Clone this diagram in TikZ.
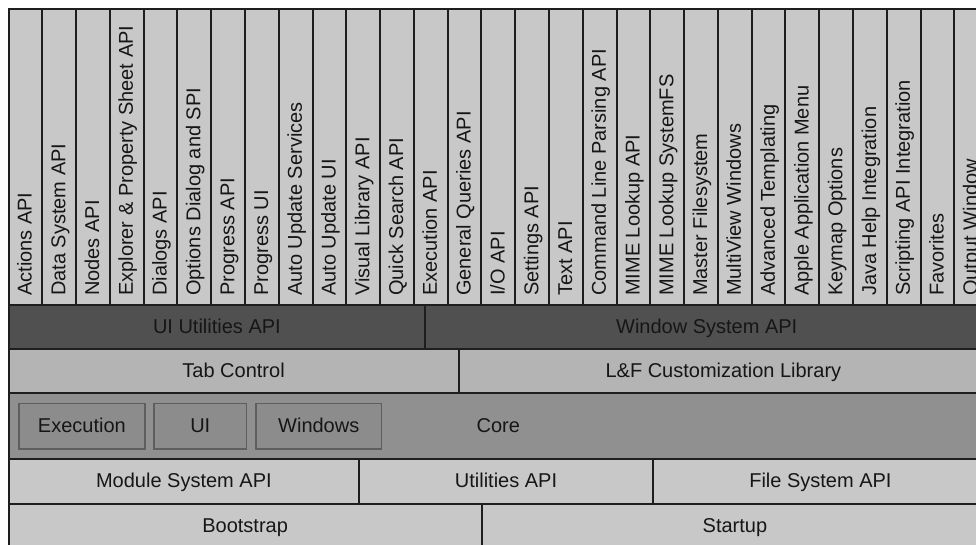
\documentclass[tikz,border=0pt]{standalone}
\usepackage{fontspec}
\setmainfont{Liberation Sans}
\definecolor{ln}{HTML}{1E1E1E}
\definecolor{lightgr}{HTML}{C8C8C8}
\definecolor{midgr}{HTML}{B4B4B4}
\definecolor{coregr}{HTML}{909090}
\definecolor{darkgr}{HTML}{505050}
\definecolor{innergr}{HTML}{8C8C8C}
\definecolor{innerln}{HTML}{5E5E5E}
\definecolor{txt}{HTML}{161616}
\begin{document}
\begin{tikzpicture}[x=1pt,y=-1pt,
  font=\fontsize{20}{24}\selectfont, text=txt,
  block/.style={draw=ln, line width=2pt, inner sep=0pt, anchor=north west,
    minimum height=44pt, text height=14.5pt, text depth=2pt},
  colbox/.style={draw=ln, line width=2pt, inner sep=0pt, anchor=north west,
    fill=lightgr, minimum width=33.78pt, minimum height=296pt},
  collabel/.style={rotate=90, anchor=base west, inner sep=0pt},
  sub/.style={draw=innerln, line width=1.5pt, fill=innergr, inner sep=0pt,
    anchor=north west, minimum height=45.6pt, text height=14.5pt, text depth=2pt}]
\useasboundingbox (0,0) rectangle (976,545);
\clip (0,0) rectangle (976,545);
\fill[white] (0,0) rectangle (976,545);

% vertical module columns
\foreach [count=\i from 0] \t in {Actions API, Data System API, Nodes API,
  Explorer \& Property Sheet API, Dialogs API, Options Dialog and SPI,
  Progress API, Progress UI, Auto Update Services, Auto Update UI,
  Visual Library API, Quick Search API, Execution API, General Queries API,
  I/O API, Settings API, Text API, Command Line Parsing API, MIME Lookup API,
  MIME Lookup SystemFS, Master Filesystem, MultiView Windows,
  Advanced Templating, Apple Application Menu, Keymap Options,
  Java Help Integration, Scripting API Integration, Favorites, Output Window}{
  \pgfmathsetmacro{\xl}{7.5+\i*33.78}
  \pgfmathsetmacro{\xb}{\xl+16.89+7.2}
  \node[colbox] (col\i) at (\xl,8) {};
  \node[collabel] (lab\i) at (\xb,296) {\t};
}

% API layers
\node[block, fill=darkgr, minimum width=416.8pt] (uiutil) at (7.5,304) {UI Utilities API};
\node[block, fill=darkgr, minimum width=562.8pt] (winsys) at (424.3,304) {Window System API};

\node[block, fill=midgr, minimum width=450.2pt] (tabctl) at (7.5,348) {Tab Control};
\node[block, fill=midgr, minimum width=529.4pt] (lafcust) at (457.7,348) {L\&F Customization Library};

\node[block, fill=coregr, minimum width=979.6pt, minimum height=66pt] (core) at (7.5,392) {Core};
\node[sub, minimum width=125.7pt] (cexec) at (18.3,402.7) {Execution};
\node[sub, minimum width=92.4pt] (cui) at (153.3,402.7) {UI};
\node[sub, minimum width=125.4pt] (cwin) at (255.3,402.7) {Windows};

\node[block, fill=lightgr, minimum width=350.8pt, minimum height=45pt] (modsys) at (7.5,458) {Module System API};
\node[block, fill=lightgr, minimum width=293.4pt, minimum height=45pt] (utils) at (358.3,458) {Utilities API};
\node[block, fill=lightgr, minimum width=335.4pt, minimum height=45pt] (filesys) at (651.7,458) {File System API};

\node[block, fill=lightgr, minimum width=473.2pt] (boot) at (7.5,503) {Bootstrap};
\node[block, fill=lightgr, minimum width=506.4pt] (startup) at (480.7,503) {Startup};
\end{tikzpicture}
\end{document}
